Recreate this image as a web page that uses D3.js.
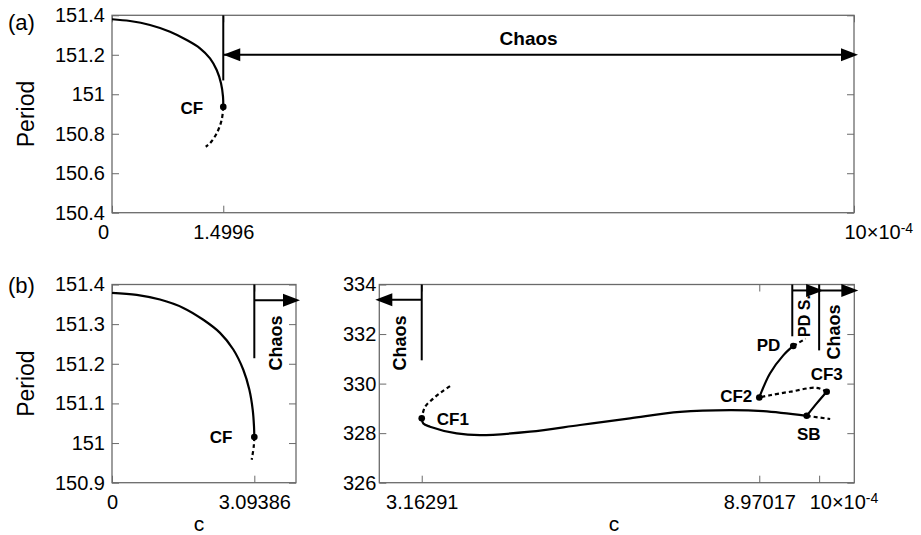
<!DOCTYPE html>
<html>
<head>
<meta charset="utf-8">
<script src="https://cdn.jsdelivr.net/npm/d3@7/dist/d3.min.js"></script>
<style>
  body { margin: 0; background: #fff; }
  text { font-family: Arial, "Liberation Sans", Helvetica, sans-serif; }
</style>
</head>
<body>
<div id="chart"></div>
<script>
// ---- datos (c en unidades de 10^-4) ----
// panel (a)
const aStableC = [0, 0.243, 0.512, 0.782, 1.007, 1.186, 1.321, 1.411, 1.469, 1.496, 1.4996];
const aStableP = [151.380, 151.371, 151.351, 151.317, 151.275, 151.233, 151.182, 151.123, 151.056, 150.988, 150.936];
const aUnstableC = [1.4996, 1.478, 1.411, 1.321, 1.263];
const aUnstableP = [150.936, 150.870, 150.802, 150.752, 150.734];
const aTicksX = [0, 1.4996, 10];
const aTicksY = [150.4, 150.6, 150.8, 151, 151.2, 151.4];

// panel (b) izquierda
const bLStableC = [0, 0.537, 1.043, 1.550, 1.985, 2.348, 2.637, 2.854, 2.985, 3.059, 3.087, 3.09386];
const bLStableP = [151.379, 151.374, 151.362, 151.341, 151.311, 151.278, 151.236, 151.185, 151.135, 151.084, 151.042, 151.015];
const bLUnstableC = [3.09386, 3.08, 3.037];
const bLUnstableP = [151.015, 150.99, 150.958];
const bLTicksX = [0, 3.09386];
const bLTicksY = [150.9, 151, 151.1, 151.2, 151.3, 151.4];

// panel (b) derecha
const bRBranch1C = [3.65, 3.507, 3.362, 3.220, 3.16291];               // dashed
const bRBranch1P = [329.90, 329.67, 329.40, 329.06, 328.60];
const bRBranch2C = [3.16291, 3.190, 3.306, 3.765, 4.166, 5.026, 5.886, 6.746, 7.607, 8.467, 9.040, 9.786]; // solid
const bRBranch2P = [328.60, 328.39, 328.26, 327.99, 327.92, 328.06, 328.33, 328.60, 328.86, 328.93, 328.89, 328.70];
const bRBranch3C = [9.786, 10.19];                                     // dashed
const bRBranch3P = [328.70, 328.57];
const bRBranch4C = [9.786, 9.958, 10.130];                             // solid
const bRBranch4P = [328.70, 329.20, 329.67];
const bRBranch5C = [10.130, 9.958, 9.499, 9.154, 8.97017];             // dashed
const bRBranch5P = [329.67, 329.83, 329.67, 329.53, 329.44];
const bRBranch6C = [8.97017, 9.154, 9.383, 9.555];                     // solid
const bRBranch6P = [329.44, 330.41, 331.14, 331.52];
const bRBranch7C = [9.555, 9.767];                                     // dashed
const bRBranch7P = [331.52, 331.81];
const bRTicksX = [3.16291, 8.97017, 10];
const bRTicksY = [326, 328, 330, 332, 334];

// puntos de bifurcacion
const aPointNames = ['CF'];
const aPointC = [1.4996];
const aPointP = [150.936];
const bLPointNames = ['CF'];
const bLPointC = [3.09386];
const bLPointP = [151.015];
const bRPointNames = ['CF1', 'CF2', 'CF3', 'SB', 'PD'];
const bRPointC = [3.16291, 8.97017, 10.130, 9.786, 9.555];
const bRPointP = [328.60, 329.44, 329.67, 328.70, 331.52];

// ---- dibujo ----
const width = 921, height = 535;
const frameColor = '#6a6a6a';

const svg = d3.select('#chart')
  .append('svg')
  .attr('width', width)
  .attr('height', height)
  .style('background-color', '#fff');

const zip = (cs, ps) => cs.map((c, i) => [c, ps[i]]);

// Crea un panel con marco, ejes y escalas
const makePanel = (o) => {
  const x = d3.scaleLinear().domain(o.xDomain).range([o.left, o.right]);
  const y = d3.scaleLinear().domain(o.yDomain).range([o.bottom, o.top]);
  const g = svg.append('g');

  const style = sel => {
    sel.select('.domain').remove();
    sel.selectAll('.tick line').attr('stroke', frameColor).attr('stroke-width', 1);
    sel.selectAll('.tick text').attr('fill', '#000').style('font-size', '20px')
      .style('font-family', 'Arial, "Liberation Sans", sans-serif');
  };

  const xAxis = g.append('g').attr('transform', `translate(0,${o.bottom})`)
    .call(d3.axisBottom(x).tickValues(o.xTicks).tickFormat(d => d3.format('')(d))
      .tickSizeInner(-7).tickSizeOuter(0).tickPadding(12))
    .call(style);
  g.append('g').attr('transform', `translate(0,${o.top})`)
    .call(d3.axisTop(x).tickValues(o.xTicks).tickFormat('').tickSizeInner(-7).tickSizeOuter(0))
    .call(style);
  g.append('g').attr('transform', `translate(${o.left},0)`)
    .call(d3.axisLeft(y).tickValues(o.yTicks).tickFormat(d => +d.toFixed(1))
      .tickSizeInner(-7).tickSizeOuter(0).tickPadding(o.yPad))
    .call(style);
  g.append('g').attr('transform', `translate(${o.right},0)`)
    .call(d3.axisRight(y).tickValues(o.yTicks).tickFormat('').tickSizeInner(-7).tickSizeOuter(0))
    .call(style);

  // etiqueta 10x10^-4
  if (o.exp) {
    xAxis.selectAll('.tick text').filter(d => d === 10)
      .attr('text-anchor', 'start').attr('dx', -10)
      .call(t => {
        t.append('tspan').text('\u00d710');
        t.append('tspan').attr('dy', '-0.45em').style('font-size', '14px').text('-4');
      });
  }

  g.append('rect')
    .attr('x', o.left).attr('y', o.top)
    .attr('width', o.right - o.left).attr('height', o.bottom - o.top)
    .attr('fill', 'none').attr('stroke', frameColor).attr('stroke-width', 1.3);

  return { g, x, y, xAxis };
};

const drawCurve = (p, cs, ps, dashed) => {
  const line = d3.line().x(d => p.x(d[0])).y(d => p.y(d[1])).curve(d3.curveCatmullRom.alpha(0.5));
  p.g.append('path')
    .datum(zip(cs, ps))
    .attr('d', line)
    .attr('fill', 'none')
    .attr('stroke', '#000')
    .attr('stroke-width', 2.2)
    .attr('stroke-dasharray', dashed ? '4,3' : null);
};

const drawPoints = (p, names, cs, ps, offs) => {
  names.forEach((n, i) => {
    const px = p.x(cs[i]), py = p.y(ps[i]);
    p.g.append('circle').attr('cx', px).attr('cy', py).attr('r', 3.3).attr('fill', '#000');
    const o = offs[i];
    p.g.append('text')
      .attr('x', px + o[0]).attr('y', py + o[1])
      .attr('text-anchor', o[2])
      .style('font-size', '17px').style('font-weight', 'bold')
      .text(n);
  });
};

const vline = (p, c, pTop, pBottom) => {
  p.g.append('line')
    .attr('x1', p.x(c)).attr('x2', p.x(c))
    .attr('y1', p.y(pTop)).attr('y2', p.y(pBottom))
    .attr('stroke', '#000').attr('stroke-width', 2);
};

// flecha horizontal; dir = 1 derecha, -1 izquierda
const arrowHead = (g, xt, yt, dir) => {
  const len = 17, half = 6.5;
  g.append('path')
    .attr('d', `M${xt},${yt}L${xt - dir * len},${yt - half}L${xt - dir * len},${yt + half}Z`)
    .attr('fill', '#000');
};
const harrow = (p, c1, c2, pv, heads) => {
  const x1 = p.x(c1), x2 = p.x(c2), yy = p.y(pv);
  p.g.append('line').attr('x1', x1).attr('x2', x2).attr('y1', yy).attr('y2', yy)
    .attr('stroke', '#000').attr('stroke-width', 2);
  if (heads.includes('start')) arrowHead(p.g, x1, yy, x1 < x2 ? -1 : 1);
  if (heads.includes('end')) arrowHead(p.g, x2 + (x2 > x1 ? 4 : -4), yy, x2 > x1 ? 1 : -1);
};

const vtext = (g, xBase, yCenter, txt, size) => {
  g.append('text')
    .attr('transform', `translate(${xBase},${yCenter}) rotate(-90)`)
    .attr('text-anchor', 'middle')
    .style('font-size', size + 'px').style('font-weight', 'bold')
    .text(txt);
};

// ---- panel (a) ----
const pa = makePanel({
  left: 112, right: 854, top: 15.3, bottom: 212.7,
  xDomain: [0, 10], yDomain: [150.4, 151.4],
  xTicks: aTicksX, yTicks: aTicksY, yPad: 7, exp: true
});
pa.xAxis.selectAll('.tick text').filter(d => d === 0).attr('dx', -9);
drawCurve(pa, aStableC, aStableP, false);
drawCurve(pa, aUnstableC, aUnstableP, true);
vline(pa, 1.4996, 151.4, 151.07);
harrow(pa, 1.4996, 10, 151.2, ['start', 'end']);
pa.g.append('text')
  .attr('x', (pa.x(1.4996) + pa.x(10)) / 2 - 10).attr('y', pa.y(151.2) - 10)
  .attr('text-anchor', 'middle')
  .style('font-size', '19px').style('font-weight', 'bold')
  .text('Chaos');
drawPoints(pa, aPointNames, aPointC, aPointP, [[-20, 7, 'end']]);

// ---- panel (b) izquierda ----
const pbl = makePanel({
  left: 112, right: 296, top: 284.5, bottom: 482.7,
  xDomain: [0, 4], yDomain: [150.9, 151.4],
  xTicks: bLTicksX, yTicks: bLTicksY, yPad: 7, exp: false
});
drawCurve(pbl, bLStableC, bLStableP, false);
drawCurve(pbl, bLUnstableC, bLUnstableP, true);
vline(pbl, 3.09386, 151.4, 151.214);
harrow(pbl, 3.09386, 4, 151.36, ['end']);
vtext(pbl.g, pbl.x(3.09386) + 28, 343, 'Chaos', 18);
drawPoints(pbl, bLPointNames, bLPointC, bLPointP, [[-22, 6, 'end']]);

// ---- panel (b) derecha ----
const pbr = makePanel({
  left: 379.3, right: 854.3, top: 284.5, bottom: 482.7,
  xDomain: [2.433, 10.605], yDomain: [326, 334],
  xTicks: bRTicksX, yTicks: bRTicksY, yPad: 3, exp: true
});
drawCurve(pbr, bRBranch1C, bRBranch1P, true);
drawCurve(pbr, bRBranch2C, bRBranch2P, false);
drawCurve(pbr, bRBranch3C, bRBranch3P, true);
drawCurve(pbr, bRBranch4C, bRBranch4P, false);
drawCurve(pbr, bRBranch5C, bRBranch5P, true);
drawCurve(pbr, bRBranch6C, bRBranch6P, false);
drawCurve(pbr, bRBranch7C, bRBranch7P, true);

vline(pbr, 3.16291, 334, 330.94);
harrow(pbr, 3.16291, 2.433, 333.38, ['end']);
vtext(pbr.g, pbr.x(3.16291) - 16, 343, 'Chaos', 18);

vline(pbr, 9.538, 334, 331.91);
harrow(pbr, 9.538, 10, 333.76, ['end']);
vtext(pbr.g, pbr.x(9.538) + 18, 316, 'PD S.', 16);

vline(pbr, 10, 334, 331.34);
harrow(pbr, 10, 10.605, 333.76, ['end']);
vtext(pbr.g, pbr.x(10) + 21, 332, 'Chaos', 18);

drawPoints(pbr, bRPointNames, bRPointC, bRPointP, [
  [15, 7, 'start'],
  [-7, 5, 'end'],
  [0, -12, 'middle'],
  [2, 24, 'middle'],
  [-13, 5, 'end']
]);

// ---- etiquetas ----
svg.append('text').attr('x', 8).attr('y', 30).style('font-size', '22px').text('(a)');
svg.append('text').attr('x', 8).attr('y', 293).style('font-size', '22px').text('(b)');

svg.append('text')
  .attr('transform', `translate(34,${(15.3 + 212.7) / 2}) rotate(-90)`)
  .attr('text-anchor', 'middle').style('font-size', '23px').text('Period');
svg.append('text')
  .attr('transform', `translate(34,${(284.5 + 482.7) / 2}) rotate(-90)`)
  .attr('text-anchor', 'middle').style('font-size', '23px').text('Period');

svg.append('text').attr('x', 199).attr('y', 531).attr('text-anchor', 'middle')
  .style('font-size', '21px').text('c');
svg.append('text').attr('x', 614).attr('y', 531).attr('text-anchor', 'middle')
  .style('font-size', '21px').text('c');
</script>
</body>
</html>
